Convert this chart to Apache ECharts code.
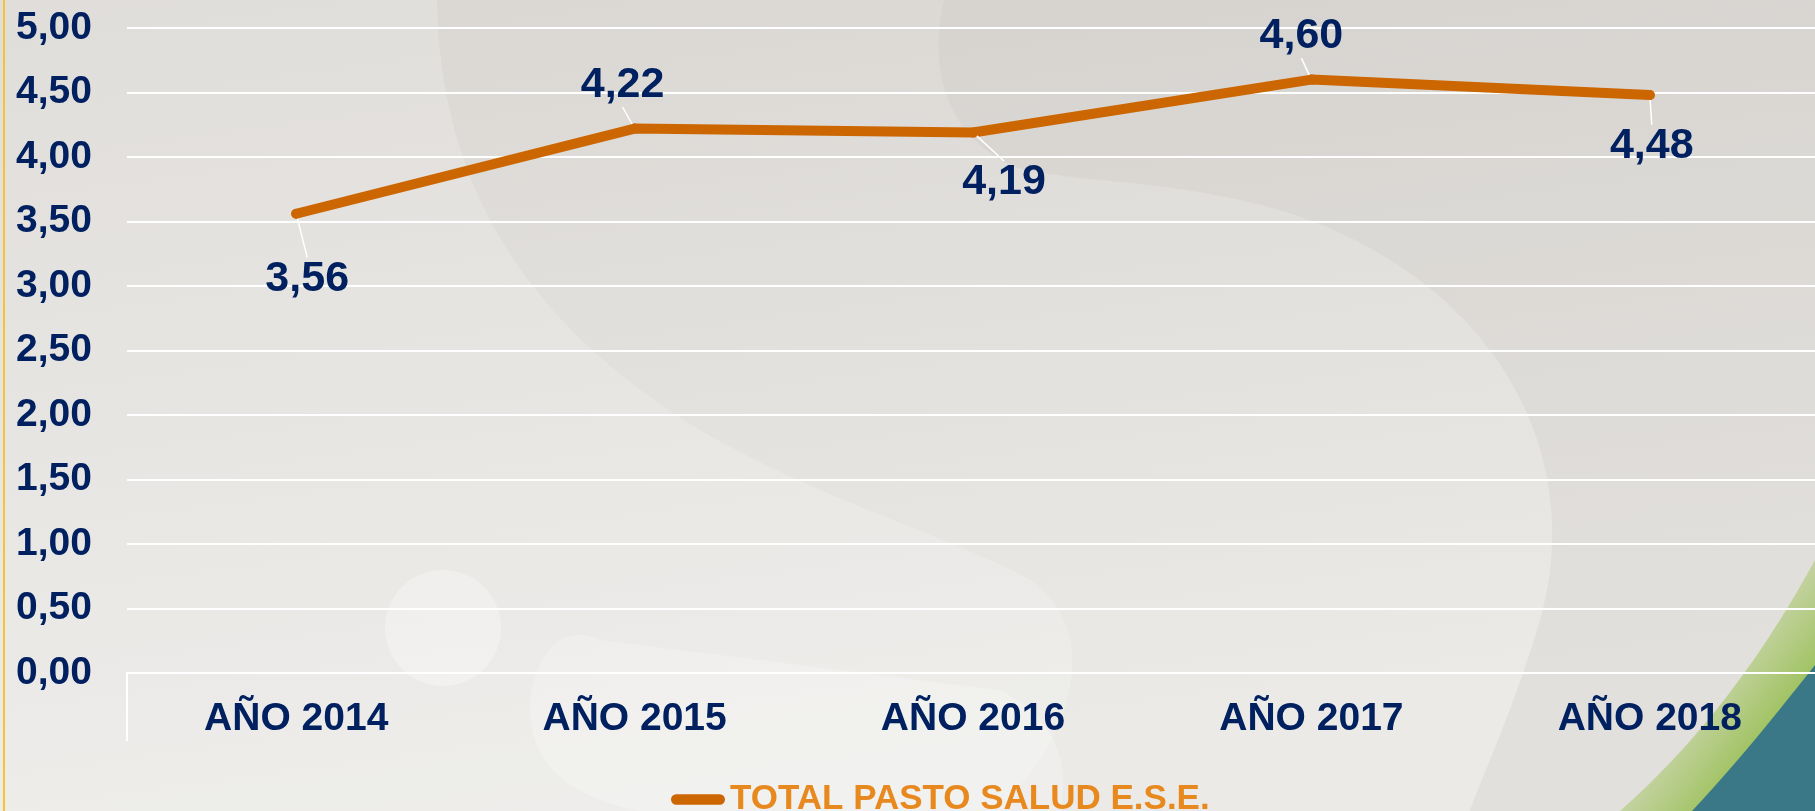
<!DOCTYPE html>
<html>
<head>
<meta charset="utf-8">
<script src="https://cdn.jsdelivr.net/npm/echarts@6/dist/echarts.min.js"></script>
<style>
html,body{margin:0;padding:0;width:1815px;height:811px;overflow:hidden;}
#bg{position:absolute;left:0;top:0;width:1815px;height:811px;z-index:0;}
#chart{position:absolute;left:0;top:0;width:1815px;height:811px;z-index:1;}
</style>
</head>
<body>
<svg id="bg" width="1815" height="811" xmlns="http://www.w3.org/2000/svg">
  <defs>
    <linearGradient id="bgg" x1="0" y1="0" x2="0.3" y2="1">
      <stop offset="0" stop-color="#d9d6d2"/>
      <stop offset="1" stop-color="#ebeae7"/>
    </linearGradient>
    <linearGradient id="gr" x1="0" y1="0" x2="1" y2="1">
      <stop offset="0" stop-color="rgb(170,200,100)" stop-opacity="0"/>
      <stop offset="0.45" stop-color="rgb(160,195,90)" stop-opacity="0.35"/>
      <stop offset="0.75" stop-color="rgb(150,190,80)" stop-opacity="0.95"/>
      <stop offset="1" stop-color="#8cb845"/>
    </linearGradient>
  </defs>
  <rect x="0" y="0" width="1815" height="811" fill="url(#bgg)"/>
  <path d="M437,0 C440,180 520,320 700,430 C820,500 960,540 1030,580 C1090,620 1080,700 1040,760 L1000,811 L0,811 L0,0 Z" fill="rgba(255,255,255,0.18)"/>
  <path d="M944,0 C930,60 940,130 1010,165 C1080,190 1250,170 1390,260 C1520,340 1580,480 1540,620 C1510,720 1480,780 1470,811 L1815,811 L1815,0 Z" fill="rgba(200,196,190,0.25)"/>
  <path d="M600,640 C560,620 530,660 530,710 C530,770 580,800 640,811 L1060,811 C1070,770 1060,720 1000,690 Z" fill="rgba(255,255,255,0.22)"/>
  <circle cx="443" cy="628" r="58" fill="rgba(255,255,255,0.3)"/>
  <path d="M1815,560 C1760,660 1700,740 1620,811 L1815,811 Z" fill="url(#gr)"/>
  <path d="M1815,665 C1770,722 1735,765 1692,811 L1815,811 Z" fill="#3a7888"/>
  <rect x="3" y="0" width="2" height="811" fill="#f5c433"/>
</svg>
<div id="chart"></div>
<script>
// ---- data ----
const categories = ['AÑO 2014', 'AÑO 2015', 'AÑO 2016', 'AÑO 2017', 'AÑO 2018'];
const seriesName = 'TOTAL PASTO SALUD E.S.E.';
const values = [3.56, 4.22, 4.19, 4.60, 4.48];
const yMin = 0, yMax = 5, yStep = 0.5;

// ---- style config ----
const FONT = '"Liberation Sans", Arial, sans-serif';
const NAVY = '#002060';
const LINE = '#CC6600';
const LEGEND_TXT = '#E8891F';
// label shift from point (dx, dy) per point, mimicking the original placement
const labelShift = [[11, 65], [-12, -43], [31, 50], [-10, -43], [2, 51]];

const fmt = v => v.toFixed(2).replace('.', ',');

const chart = echarts.init(document.getElementById('chart'), null, {renderer: 'canvas'});

const option = {
  backgroundColor: 'transparent',
  animation: false,
  grid: {left: 127, right: -4, top: 28, bottom: 138, containLabel: false, outerBoundsMode: 'none'},
  legend: {
    data: [{name: seriesName, icon: 'path://M5,0 H47 A5,5 0 0 1 47,10 H5 A5,5 0 0 1 5,0 Z'}],
    left: 666, top: 777,
    itemWidth: 54, itemHeight: 11, itemGap: 10,
    textStyle: {color: LEGEND_TXT, fontSize: 35, fontWeight: 'bold', fontFamily: FONT}
  },
  xAxis: {
    type: 'category',
    data: categories,
    boundaryGap: true,
    axisLine: {show: true, lineStyle: {color: '#ffffff', width: 2}},
    axisTick: {show: true, length: 68, interval: (i) => i === 0, lineStyle: {color: '#ffffff', width: 2}},
    axisLabel: {color: NAVY, fontSize: 39, fontWeight: 'bold', fontFamily: FONT, margin: 27},
    splitLine: {show: false}
  },
  yAxis: {
    type: 'value',
    min: yMin, max: yMax, interval: yStep,
    axisLine: {show: false},
    axisTick: {show: false},
    axisLabel: {color: NAVY, fontSize: 39, fontWeight: 'bold', fontFamily: FONT, margin: 35,
      formatter: v => fmt(v)},
    splitLine: {show: true, lineStyle: {color: '#ffffff', width: 2}}
  },
  series: [{
    name: seriesName,
    type: 'line',
    data: values,
    symbol: 'circle',
    symbolSize: 10,
    itemStyle: {color: LINE},
    lineStyle: {color: LINE, width: 10, cap: 'round', join: 'round'},
    label: {
      show: true, position: 'inside',
      color: NAVY, fontSize: 43, fontWeight: 'bold', fontFamily: FONT,
      formatter: p => fmt(p.value)
    },
    labelLine: {show: true, lineStyle: {color: '#ffffff', width: 1.5}},
    labelLayout: function (p) {
      const s = labelShift[p.dataIndex];
      return {
        x: p.rect.x + p.rect.width / 2 + s[0],
        y: p.rect.y + p.rect.height / 2 + s[1],
        align: 'center', verticalAlign: 'middle'
      };
    },
    emphasis: {disabled: true}
  }]
};
chart.setOption(option);
</script>
</body>
</html>
